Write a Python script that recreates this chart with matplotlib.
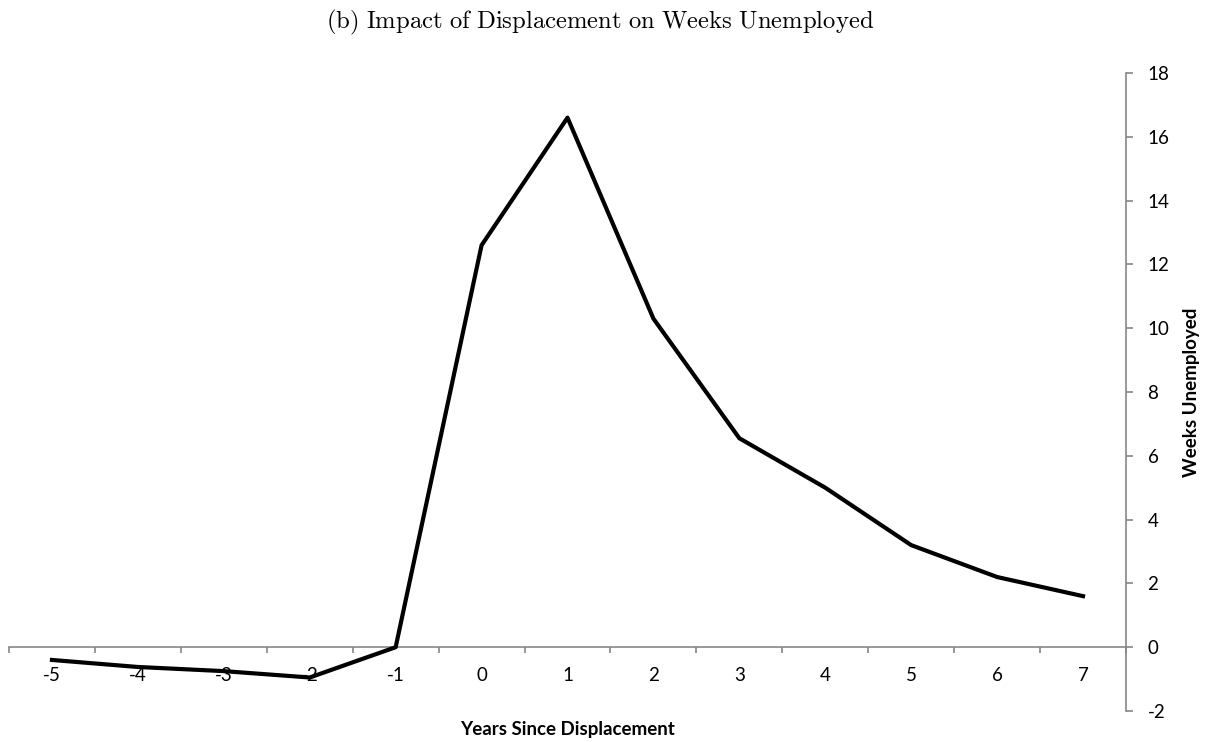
import matplotlib
matplotlib.use("Agg")
import matplotlib.pyplot as plt
import numpy as np

# Years since displacement and estimated impact on weeks unemployed
years = [-5, -4, -3, -2, -1, 0, 1, 2, 3, 4, 5, 6, 7]
weeks = [-0.4, -0.62, -0.75, -0.95, 0.0, 12.6, 16.6, 10.3, 6.55, 5.0, 3.2, 2.2, 1.6]
y_ticks = [-2, 0, 2, 4, 6, 8, 10, 12, 14, 16, 18]

plt.rcParams["mathtext.fontset"] = "cm"
plt.rcParams["font.family"] = ["Lato", "DejaVu Sans"]

fig = plt.figure(figsize=(12.05, 7.42), dpi=100)
ax = fig.add_axes([9 / 1205, 1 - 711 / 742, (1126 - 9) / 1205, (711 - 73) / 742])

pos = np.arange(len(years))
ax.plot(pos, weeks, color="black", linewidth=3, zorder=5, clip_on=False)

ax.set_xlim(-0.5, len(years) - 0.5)
ax.set_ylim(-2, 18)

# excel-style category axis crossing at zero
axis_grey = "#868686"
for side in ["left", "top"]:
    ax.spines[side].set_visible(False)
ax.spines["bottom"].set_position(("data", 0))
ax.spines["bottom"].set_color(axis_grey)
ax.spines["right"].set_color(axis_grey)
ax.spines["bottom"].set_linewidth(1.2)
ax.spines["right"].set_linewidth(1.2)

ax.set_xticks(np.arange(-0.5, len(years), 1.0))
ax.set_xticklabels([])
ax.set_xticks(pos, minor=True)
ax.set_xticklabels([str(y) for y in years], minor=True)
ax.tick_params(axis="x", which="major", direction="out", length=4.5, color=axis_grey, width=1.2)
ax.tick_params(axis="x", which="minor", length=0, pad=14.5, labelsize=13.5)

ax.yaxis.tick_right()
ax.set_yticks(y_ticks)
ax.set_yticklabels([str(v) for v in y_ticks])
ax.tick_params(axis="y", direction="out", length=5, color=axis_grey, width=1.2, pad=10.5, labelsize=13.5)

ax.set_xlabel("Years Since Displacement", fontsize=13.5, fontweight="bold")
ax.xaxis.set_label_coords(0.5, -0.016)
ax.yaxis.set_label_position("right")
ax.set_ylabel("Weeks Unemployed", fontsize=13.5, fontweight="bold", labelpad=10)

fig.text(0.498, 1 - 22 / 742,
         r"$\mathrm{(b)\ Impact\ of\ Displacement\ on\ Weeks\ Unemployed}$",
         ha="center", va="center", fontsize=17.75)

fig.savefig("out.png", dpi=100)
